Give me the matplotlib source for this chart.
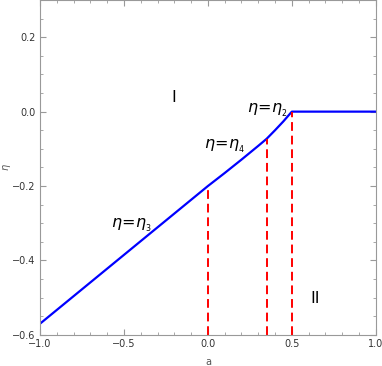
import numpy as np
import matplotlib.pyplot as plt
from matplotlib.ticker import MultipleLocator

# boundary curve eta(a)
a_vals = [-1.0, -0.5, 0.0, 0.1, 0.2, 0.3, 0.35, 0.4, 0.45, 0.5, 0.75, 1.0]
eta_vals = [-0.57, -0.385, -0.2, -0.165, -0.129, -0.092, -0.073, -0.050, -0.026, 0.0, 0.0, 0.0]

# vertical dashed markers (a, top of line)
mark_a = [0.0, 0.35, 0.5]
mark_top = [-0.2, -0.073, 0.0]

# text labels
labels = [r"$\eta\!=\!\eta_{_2}$", r"$\eta\!=\!\eta_{_4}$", r"$\eta\!=\!\eta_{_3}$", "I", "II"]
label_x = [0.355, 0.10, -0.455, -0.205, 0.64]
label_y = [0.005, -0.092, -0.305, 0.038, -0.503]

fig = plt.figure(figsize=(3.82, 3.66), dpi=100)
ax = fig.add_axes([0.1047, 0.085, 0.879, 0.915])

ax.plot(a_vals, eta_vals, color=(0.0, 0.0, 1.0), lw=1.6, clip_on=True)
for xa, top in zip(mark_a, mark_top):
    ax.plot([xa, xa], [-0.6, top], color=(1.0, 0.0, 0.0), lw=1.4, ls=(0, (4.5, 2.5)))

for t, x, y in zip(labels, label_x, label_y):
    ax.text(x, y, t, fontsize=11.5, ha="center", va="center",
            family=["DejaVu Sans"], color="black")

ax.set_xlim(-1, 1)
ax.set_ylim(-0.6, 0.3)
ax.xaxis.set_major_locator(MultipleLocator(0.5))
ax.xaxis.set_minor_locator(MultipleLocator(0.1))
ax.yaxis.set_major_locator(MultipleLocator(0.2))
ax.yaxis.set_minor_locator(MultipleLocator(0.05))
ax.set_xticks([-1.0, -0.5, 0.0, 0.5, 1.0])
ax.set_xticklabels(["\u22121.0", "\u22120.5", "0.0", "0.5", "1.0"])
ax.set_yticks([-0.6, -0.4, -0.2, 0.0, 0.2])
ax.set_yticklabels(["\u22120.6", "\u22120.4", "\u22120.2", "0.0", "0.2"])

ax.tick_params(which="both", direction="in", top=True, right=True,
               color="#999999", labelsize=7, labelcolor="#333333", pad=3)
ax.tick_params(which="major", length=4, width=0.8)
ax.tick_params(which="minor", length=2, width=0.6)
for s in ax.spines.values():
    s.set_color("#999999")
    s.set_linewidth(0.8)

ax.set_xlabel("a", fontsize=7, color="#555555", labelpad=6)
ax.set_ylabel(r"$\eta$", fontsize=7, color="#555555")
ax.yaxis.set_label_coords(-0.08, 0.5)

fig.savefig("out.png", dpi=100)
